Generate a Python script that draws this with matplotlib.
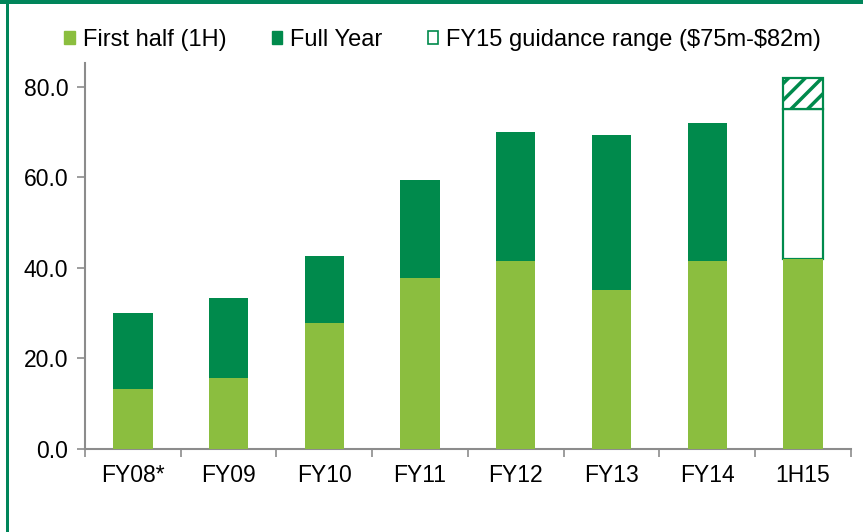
import matplotlib

matplotlib.use("Agg")
import matplotlib.pyplot as plt
from matplotlib.patches import Patch, Rectangle
import numpy as np

plt.rcParams["font.family"] = ["Liberation Sans", "DejaVu Sans"]
plt.rcParams["hatch.color"] = "#008A4C"
plt.rcParams["hatch.linewidth"] = 2.5

# data
categories = ["FY08*", "FY09", "FY10", "FY11", "FY12", "FY13", "FY14", "1H15"]
first_half = [13.3, 15.7, 27.8, 37.8, 41.5, 35.1, 41.5, 42.0]
full_year = [30.0, 33.4, 42.6, 59.4, 70.0, 69.4, 72.0, None]
guidance_low = 75.0
guidance_high = 82.0
y_ticks = [0, 20, 40, 60, 80]

LIGHT = "#8BBE3F"
DARK = "#008A4C"
AXIS_GREY = "#8C8C8C"

fig = plt.figure(figsize=(8.63, 5.32), dpi=100)
ax = fig.add_axes([0.0985, 0.156, 0.8875, 0.726])

x = np.arange(len(categories))
width = 0.41

fy_x = [i for i, v in zip(x, full_year) if v is not None]
fy_base = [first_half[i] for i in fy_x]
fy_h = [full_year[i] - first_half[i] for i in fy_x]
ax.bar(fy_x, fy_h, width, bottom=fy_base, color=DARK, zorder=2)
ax.bar(x, first_half, width, color=LIGHT, zorder=3)

# guidance range on the last bar
last = x[-1]
ax.bar(last, guidance_low - first_half[-1], width, bottom=first_half[-1],
       facecolor="white", edgecolor=DARK, linewidth=1.6, zorder=2)
ax.bar(last, guidance_high - guidance_low, width, bottom=guidance_low,
       facecolor="white", edgecolor=DARK, hatch="//", linewidth=1.6, zorder=2)

ax.set_xlim(-0.5, len(categories) - 0.5)
ax.set_ylim(0, 85.3)
ax.set_yticks(y_ticks)
ax.set_yticklabels([f"{v:.1f}" for v in y_ticks], fontsize=16.5)
ax.set_xticks(x)
ax.set_xticklabels(categories, fontsize=16.5)
ax.tick_params(axis="x", which="major", length=0, pad=11)
ax.set_xticks(np.arange(-0.5, len(categories), 1.0), minor=True)
ax.tick_params(axis="x", which="minor", length=6, color=AXIS_GREY, width=1.2)
ax.tick_params(axis="y", length=6, color=AXIS_GREY, width=1.2, pad=6)

for side in ("top", "right"):
    ax.spines[side].set_visible(False)
for side in ("left", "bottom"):
    ax.spines[side].set_color(AXIS_GREY)
    ax.spines[side].set_linewidth(1.5)

handles = [
    Patch(facecolor=LIGHT, edgecolor=LIGHT, label="First half (1H)"),
    Patch(facecolor=DARK, edgecolor=DARK, label="Full Year"),
    Patch(facecolor="white", edgecolor=DARK, linewidth=1.2,
          label=r"FY15 guidance range (\$75m-\$82m)"),
]
fig.legend(handles=handles, loc="center", bbox_to_anchor=(0.513, 0.925),
           ncol=3, frameon=False, fontsize=17, handlelength=0.45,
           handleheight=0.45, handletextpad=0.35, columnspacing=1.9)

# green frame on top and left edges
fig.patches.append(Rectangle((0, 0.9925), 1, 0.0075, transform=fig.transFigure,
                             facecolor="#00855A", edgecolor="none"))
fig.patches.append(Rectangle((0.0075, 0), 0.0025, 1, transform=fig.transFigure,
                             facecolor="#00855A", edgecolor="none"))

fig.savefig("out.png", dpi=100)
